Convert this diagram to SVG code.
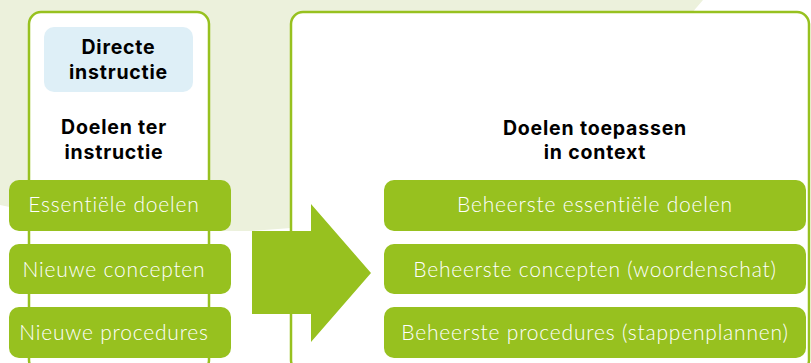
<svg xmlns="http://www.w3.org/2000/svg" width="811" height="363" viewBox="0 0 811 363">
<style>
.frame{fill:#fff;stroke:#97C11F;stroke-width:2.5}
.pill{fill:#97C11F}
.pt{font-family:Lato,"Liberation Sans",sans-serif;font-weight:300;font-size:21px;letter-spacing:0.8px;font-variant-ligatures:none;fill:#fff;text-anchor:middle}
.hd{font-family:Inter,"Liberation Sans",sans-serif;font-weight:700;font-size:19.5px;letter-spacing:0.8px;fill:#000;text-anchor:middle}
</style>
<rect width="811" height="363" fill="#fff"/>
<path id="background" d="M0,0 H703 L600,120 Q450,222 250,231 Q120,232 0,205 Z" fill="#ECF1DC"/>
<g id="left-panel">
<rect class="frame" x="29" y="12" width="180" height="360" rx="12"/>
<rect x="44" y="27" width="149" height="65" rx="10" fill="#DEEFF7"/>
<text class="hd" x="118.5" y="54">Directe</text>
<text class="hd" x="118.5" y="79">instructie</text>
<text class="hd" x="114" y="134">Doelen ter</text>
<text class="hd" x="114" y="159">instructie</text>
</g>
<g id="right-panel">
<rect class="frame" x="291" y="12" width="518" height="360" rx="12"/>
<text class="hd" x="595" y="135">Doelen toepassen</text>
<text class="hd" x="595" y="159">in context</text>
</g>
<g id="connectors">
<polygon points="252,231 311,231 311,204 371,273 311,342 311,314 252,314" fill="#97C11F"/>
</g>
<g id="node-essentiele">
<rect class="pill" x="9" y="180" width="222" height="51" rx="10"/>
<text class="pt" x="114" y="212">Essentiële doelen</text>
</g>
<g id="node-concepten">
<rect class="pill" x="9" y="244" width="222" height="50" rx="10"/>
<text class="pt" x="114" y="277">Nieuwe concepten</text>
</g>
<g id="node-procedures">
<rect class="pill" x="9" y="307" width="222" height="51" rx="10"/>
<text class="pt" x="114" y="340">Nieuwe procedures</text>
</g>
<g id="node-beheerste-doelen">
<rect class="pill" x="384" y="180" width="422" height="51" rx="10"/>
<text class="pt" x="595" y="212">Beheerste essentiële doelen</text>
</g>
<g id="node-beheerste-concepten">
<rect class="pill" x="384" y="244" width="422" height="50" rx="10"/>
<text class="pt" x="595" y="277">Beheerste concepten (woordenschat)</text>
</g>
<g id="node-beheerste-procedures">
<rect class="pill" x="384" y="307" width="422" height="51" rx="10"/>
<text class="pt" x="595" y="340">Beheerste procedures (stappenplannen)</text>
</g>
</svg>
